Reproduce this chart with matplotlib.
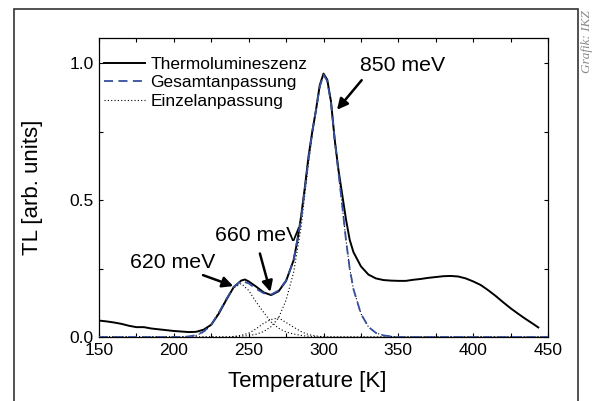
import matplotlib
matplotlib.use("Agg")
import matplotlib.pyplot as plt
from matplotlib.patches import Rectangle
from matplotlib.ticker import MultipleLocator

plt.rcParams["font.family"] = ["Liberation Sans", "DejaVu Sans"]

# measured thermoluminescence curve
temp_tl = [150, 155, 160, 165, 170, 175, 180, 185, 190, 195, 200, 205, 210, 215,
           220, 225, 230, 235, 240, 245, 247.5, 250, 255, 260, 265, 270, 275, 280,
           282.5, 285, 287.5, 290, 292.5, 295, 297.5, 300, 302.5, 305, 307.5, 310,
           312.5, 315, 317.5, 320, 325, 330, 335, 340, 345, 350, 355, 360, 365,
           370, 375, 380, 385, 390, 395, 400, 405, 410, 415, 420, 425, 430, 435,
           440, 443.5]
tl = [0.060, 0.057, 0.053, 0.048, 0.041, 0.036, 0.036, 0.031, 0.028, 0.025, 0.022,
      0.020, 0.018, 0.019, 0.027, 0.045, 0.085, 0.135, 0.182, 0.206, 0.210, 0.203,
      0.184, 0.163, 0.153, 0.167, 0.205, 0.280, 0.350, 0.440, 0.545, 0.660, 0.750,
      0.830, 0.920, 0.962, 0.940, 0.860, 0.720, 0.610, 0.520, 0.430, 0.355, 0.310,
      0.258, 0.228, 0.214, 0.208, 0.206, 0.205, 0.205, 0.209, 0.212, 0.216, 0.219,
      0.222, 0.223, 0.221, 0.214, 0.203, 0.190, 0.171, 0.150, 0.127, 0.105, 0.085,
      0.066, 0.048, 0.035]

# fit curves (shared temperature grid)
temp_fit = [150, 200, 205, 210, 215, 220, 225, 230, 235, 240, 245, 250, 255, 260,
            265, 270, 275, 280, 285, 287.5, 290, 292.5, 295, 297.5, 300, 302.5, 305,
            307.5, 310, 312.5, 315, 317.5, 320, 325, 330, 335, 340, 345, 350, 400, 450]
fit_total = [0, 0, 0, 0.002, 0.007, 0.020, 0.045, 0.088, 0.138, 0.183, 0.205, 0.196,
             0.176, 0.160, 0.155, 0.170, 0.206, 0.280, 0.430, 0.540, 0.650, 0.750,
             0.830, 0.915, 0.958, 0.935, 0.855, 0.720, 0.600, 0.480, 0.355, 0.250,
             0.175, 0.085, 0.037, 0.015, 0.006, 0.002, 0, 0, 0]
peak_620 = [0, 0, 0, 0.002, 0.006, 0.018, 0.045, 0.090, 0.138, 0.180, 0.195, 0.170,
            0.128, 0.090, 0.055, 0.032, 0.018, 0.011, 0.006, 0.004, 0.003, 0.002,
            0.001, 0, 0, 0, 0, 0, 0, 0, 0, 0, 0, 0, 0, 0, 0, 0, 0, 0, 0]
peak_660 = [0, 0, 0, 0, 0, 0, 0, 0, 0, 0.002, 0.006, 0.014, 0.030, 0.050, 0.064,
            0.070, 0.053, 0.036, 0.020, 0.014, 0.009, 0.006, 0.004, 0.002, 0.001,
            0, 0, 0, 0, 0, 0, 0, 0, 0, 0, 0, 0, 0, 0, 0, 0]
peak_850 = [0, 0, 0, 0, 0, 0, 0, 0, 0, 0.001, 0.003, 0.005, 0.010, 0.020, 0.038,
            0.070, 0.135, 0.235, 0.400, 0.520, 0.635, 0.740, 0.825, 0.912, 0.957,
            0.935, 0.855, 0.720, 0.600, 0.480, 0.355, 0.250, 0.175, 0.085, 0.037,
            0.015, 0.006, 0.002, 0, 0, 0]

peak_labels = ["620 meV", "660 meV", "850 meV"]

fig = plt.figure(figsize=(5.96, 4.01), dpi=100)
ax = fig.add_axes([0.1661, 0.1596, 0.7534, 0.7449])

blue = "#34509e"
ax.plot(temp_tl, tl, color="black", lw=1.4, label="Thermolumineszenz", zorder=3)
ax.plot(temp_fit, fit_total, color=blue, lw=1.3, ls=(0, (5, 3)),
        label="Gesamtanpassung", zorder=4)
ax.plot(temp_fit, peak_620, color="black", lw=0.8, ls=(0, (1, 2)),
        label="Einzelanpassung", zorder=2)
ax.plot(temp_fit, peak_660, color="black", lw=0.8, ls=(0, (1, 2)), zorder=2)
ax.plot(temp_fit, peak_850, color="black", lw=0.8, ls=(0, (1, 2)), zorder=2)

ax.set_xlim(150, 450)
ax.set_ylim(0, 1.091)
ax.xaxis.set_major_locator(MultipleLocator(50))
ax.xaxis.set_minor_locator(MultipleLocator(25))
ax.yaxis.set_major_locator(MultipleLocator(0.5))
ax.yaxis.set_minor_locator(MultipleLocator(0.25))
ax.tick_params(which="both", direction="in", top=True, right=True,
               length=2.8, width=0.8, labelsize=12.5, pad=4)
for sp in ax.spines.values():
    sp.set_linewidth(0.9)

ax.set_xlabel("Temperature [K]", fontsize=16)
ax.set_ylabel("TL [arb. units]", fontsize=16)
ax.xaxis.set_label_coords(0.463, -0.113)
ax.yaxis.set_label_coords(-0.125, 0.5)

ax.legend(loc="upper left", bbox_to_anchor=(0.0, 0.955), frameon=False,
          fontsize=12.5, handlelength=2.35, handletextpad=0.3,
          labelspacing=0.18, borderaxespad=0.2, borderpad=0.1)

arrow = dict(arrowstyle="-|>", lw=1.8, color="black", mutation_scale=16,
             shrinkA=0, shrinkB=0)
ax.annotate("", xy=(239.7, 0.186), xytext=(219.5, 0.226), arrowprops=arrow)
ax.annotate("", xy=(264.5, 0.165), xytext=(257.5, 0.305), arrowprops=arrow)
ax.annotate("", xy=(309.0, 0.830), xytext=(325.5, 0.938), arrowprops=arrow)
ax.text(199.1, 0.272, peak_labels[0], fontsize=15.3, ha="center", va="center")
ax.text(255.9, 0.371, peak_labels[1], fontsize=15.3, ha="center", va="center")
ax.text(352.6, 0.990, peak_labels[2], fontsize=15.3, ha="center", va="center")

# outer frame and credit
fig.add_artist(Rectangle((0.0235, -0.05), 0.9465, 1.0276, transform=fig.transFigure,
                         fill=False, edgecolor="#333333", lw=1.2))
fig.text(0.985, 0.975, "Grafik: IKZ", rotation=90, ha="center", va="top",
         fontsize=9.5, color="#888888", style="italic",
         family=["Liberation Serif", "DejaVu Serif"])

fig.savefig("out.png", dpi=100)
